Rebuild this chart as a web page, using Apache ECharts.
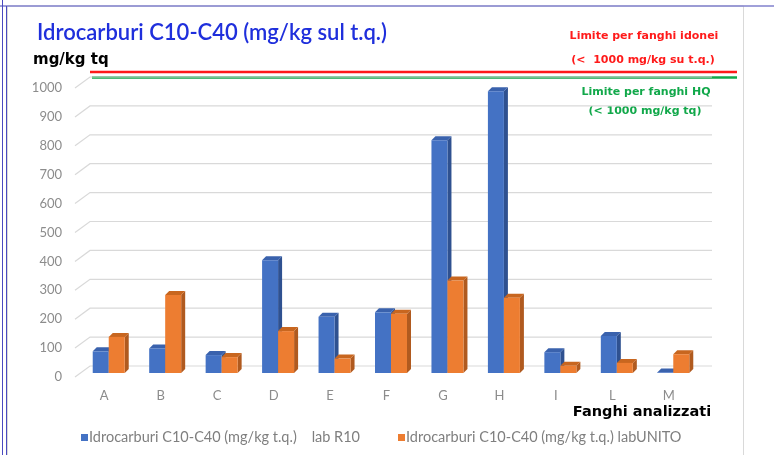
<!DOCTYPE html>
<html><head><meta charset="utf-8">
<script src="https://cdn.jsdelivr.net/npm/echarts@6/dist/echarts.min.js"></script>
<style>html,body{margin:0;padding:0;background:#fff}#c{width:774px;height:455px}</style>
</head><body><div id="c"></div>
<script>
const categories = ['A','B','C','D','E','F','G','H','I','L','M'];
const labR10 = [75, 85, 62, 390, 195, 210, 805, 975, 72, 128, 2];
const labUNITO = [125, 270, 55, 145, 50, 205, 320, 260, 25, 35, 65];
const yTicks = [0, 100, 200, 300, 400, 500, 600, 700, 800, 900, 1000];
const seriesNames = ['Idrocarburi C10-C40 (mg/kg t.q.)    lab R10', 'Idrocarburi C10-C40 (mg/kg t.q.) labUNITO'];

const FONT = 'Lato';
const WIDE = 'DejaVu Sans';
const DX = 4, DY = 4, BAR_W = 16, SHIFT = 4.5, LIFT = 4;
const palettes = [
  { front: '#4472c4', side: '#2f5190', top: '#3a62ad' },
  { front: '#ed7d31', side: '#b05a1f', top: '#c8661f' }
];

function barRender(sIdx) {
  return function (params, api) {
    const i = api.value(0), v = api.value(1);
    const base = api.coord([i, 0]);
    const top = api.coord([i, v]);
    const cx = base[0] + SHIFT;
    const x0 = sIdx === 0 ? cx - BAR_W : cx;
    const yb = base[1] - LIFT, yt = top[1] - LIFT;
    const p = palettes[sIdx];
    return {
      type: 'group',
      children: [
        { type: 'polygon', shape: { points: [[x0 + BAR_W, yt], [x0 + BAR_W + DX, yt - DY], [x0 + BAR_W + DX, yb - DY], [x0 + BAR_W, yb]] }, style: { fill: p.side } },
        { type: 'polygon', shape: { points: [[x0, yt], [x0 + DX, yt - DY], [x0 + BAR_W + DX, yt - DY], [x0 + BAR_W, yt]] }, style: { fill: p.top } },
        { type: 'rect', shape: { x: x0, y: yt, width: BAR_W, height: yb - yt }, style: { fill: p.front } }
      ]
    };
  };
}

function gridRender(params, api) {
  const t = api.value(1);
  const y = api.coord([0, t])[1];
  const cs = params.coordSys;
  const xs = cs.x - 1;
  return {
    type: 'polyline',
    shape: { points: [[xs, y], [xs + 15, y - 11], [cs.x + cs.width + 15, y - 11]] },
    style: { stroke: '#d9d9d9', lineWidth: 1.2, fill: null }
  };
}

const chart = echarts.init(document.getElementById('c'), null, { renderer: 'canvas' });
chart.setOption({
  animation: false,
  backgroundColor: '#fff',
  textStyle: { fontFamily: FONT },
  grid: { left: 76, right: 77, top: 88, bottom: 78 },
  xAxis: {
    type: 'category', data: categories,
    axisLine: { show: false }, axisTick: { show: false },
    axisLabel: { color: '#8c8c8c', fontSize: 13, margin: 12, fontFamily: FONT }
  },
  yAxis: {
    type: 'value', min: 0, max: 1000, interval: 100,
    axisLine: { show: false }, axisTick: { show: false }, splitLine: { show: false },
    axisLabel: { color: '#8c8c8c', fontSize: 13, margin: 14, fontFamily: FONT, formatter: v => String(v) }
  },
  legend: {
    data: seriesNames,
    left: 76, top: 425, itemWidth: 7, itemHeight: 7, itemGap: 38, icon: 'rect',
    textStyle: { color: '#7f7f7f', fontSize: 14.5, fontFamily: FONT, padding: [0, 0, 0, -4] }
  },
  series: [
    { type: 'custom', name: 'grid', silent: true, z: 1, renderItem: gridRender,
      data: yTicks.map(t => [0, t]) },
    { type: 'custom', name: seriesNames[0], z: 2, renderItem: barRender(0), itemStyle: { color: palettes[0].front },
      data: labR10.map((v, i) => [i, v]) },
    { type: 'custom', name: seriesNames[1], z: 3, renderItem: barRender(1), itemStyle: { color: palettes[1].front },
      data: labUNITO.map((v, i) => [i, v]) }
  ],
  graphic: [
    { type: 'rect', shape: { x: 7.5, y: 6, width: 736, height: 460 }, style: { fill: null, stroke: '#d9d9d9', lineWidth: 1 }, z: 0 },
    { type: 'line', shape: { x1: 0, y1: 6, x2: 774, y2: 6 }, style: { stroke: '#8080cc', lineWidth: 1.5 } },
    { type: 'line', shape: { x1: 2.5, y1: 0, x2: 2.5, y2: 455 }, style: { stroke: '#4a4ac0', lineWidth: 1 } },
    { type: 'line', shape: { x1: 6.5, y1: 6, x2: 6.5, y2: 455 }, style: { stroke: '#4a4ac0', lineWidth: 1 } },
    { type: 'text', left: 37, top: 22, style: { text: 'Idrocarburi C10-C40 (mg/kg sul t.q.)', fill: '#1f2fdc', fontSize: 22, fontWeight: 600, fontFamily: FONT } },
    { type: 'text', left: 33, top: 53, style: { text: 'mg/kg tq', fill: '#000', fontSize: 15, fontWeight: 'bold', fontFamily: WIDE } },
    { type: 'line', shape: { x1: 90, y1: 72, x2: 737, y2: 72 }, style: { stroke: '#ff1a1a', lineWidth: 2.5 } },
    { type: 'line', shape: { x1: 92, y1: 77.5, x2: 737, y2: 77.5 }, style: { stroke: '#11a84a', lineWidth: 2.5 } },
    { type: 'text', x: 644, y: 36, style: { text: 'Limite per fanghi idonei', fill: '#ff1a1a', fontSize: 11, fontWeight: 'bold', fontFamily: WIDE, align: 'center', verticalAlign: 'middle' } },
    { type: 'text', x: 643, y: 60, style: { text: '(<  1000 mg/kg su t.q.)', fill: '#ff1a1a', fontSize: 11, fontWeight: 'bold', fontFamily: WIDE, align: 'center', verticalAlign: 'middle' } },
    { type: 'text', x: 646, y: 92, style: { text: 'Limite per fanghi HQ', fill: '#11a84a', fontSize: 11, fontWeight: 'bold', fontFamily: WIDE, align: 'center', verticalAlign: 'middle' } },
    { type: 'text', x: 645, y: 111, style: { text: '(< 1000 mg/kg tq)', fill: '#11a84a', fontSize: 11, fontWeight: 'bold', fontFamily: WIDE, align: 'center', verticalAlign: 'middle' } },
    { type: 'text', x: 642, y: 412, style: { text: 'Fanghi analizzati', fill: '#000', fontSize: 14.5, fontWeight: 'bold', fontFamily: WIDE, align: 'center', verticalAlign: 'middle' } }
  ]
});
</script>
</body></html>
